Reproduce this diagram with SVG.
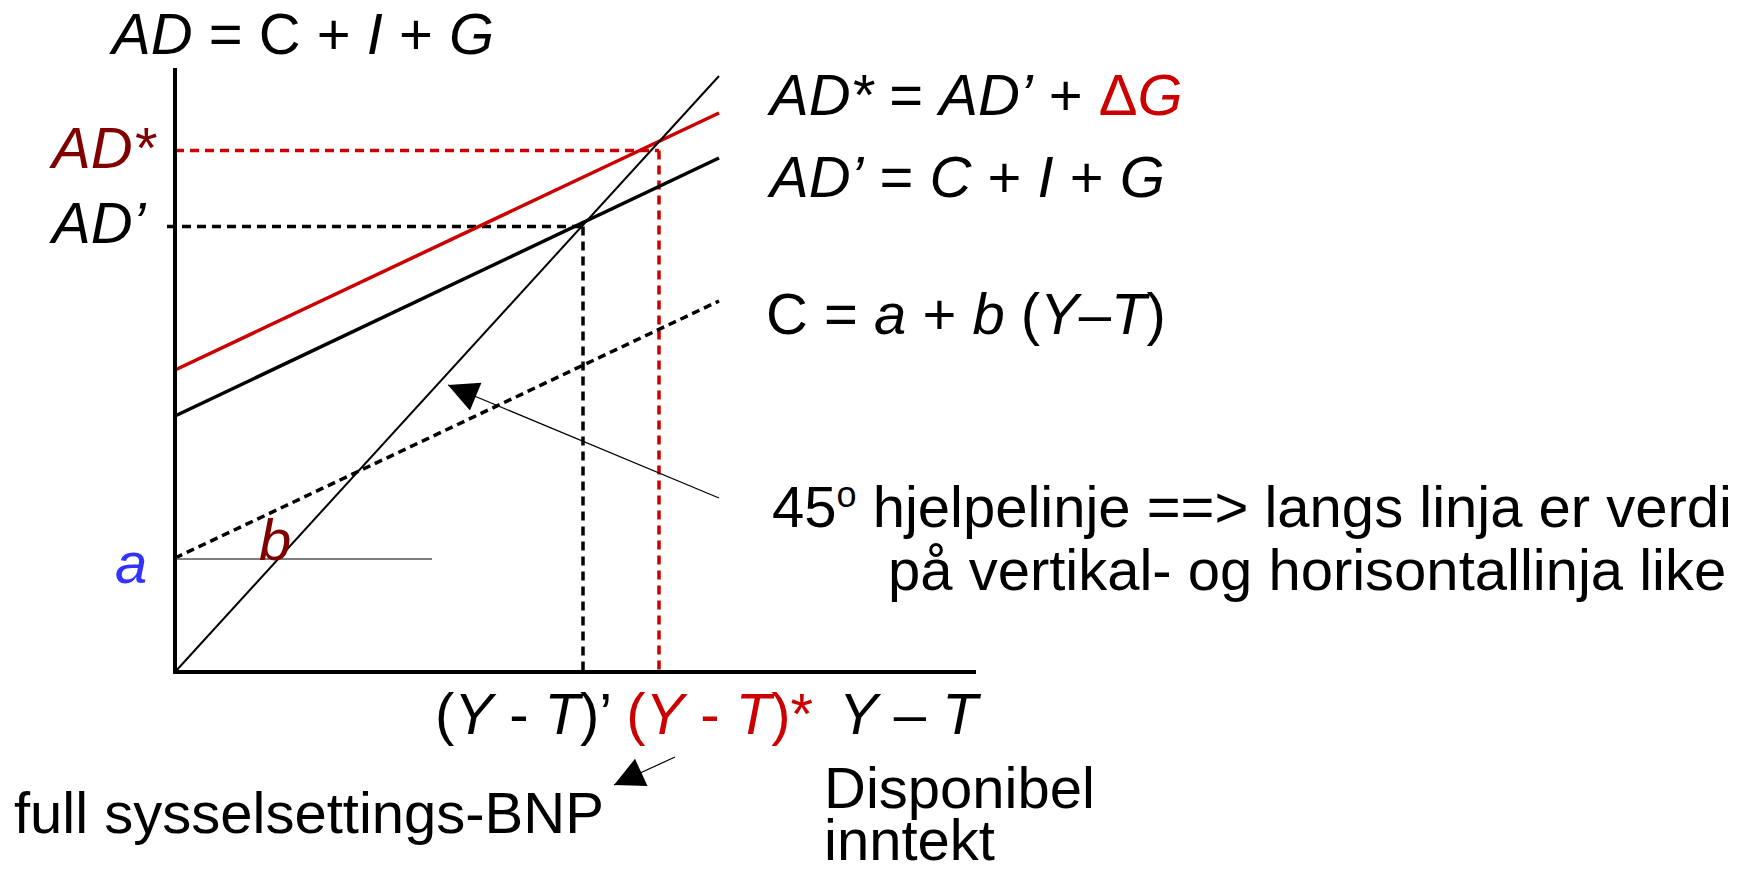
<svg xmlns="http://www.w3.org/2000/svg" width="1751" height="869" viewBox="0 0 1751 869">
<style>
text{font-family:"Liberation Sans",Arial,sans-serif;font-size:58px;fill:#000}
.i{font-style:italic}
.red{fill:#cc0000}
.dred{fill:#800000}
.blue{fill:#3333ff}
.ax{stroke:#000;stroke-width:4;fill:none}
.dash{stroke-width:3.5;stroke-dasharray:9,6;fill:none}
</style>
<defs>
<marker id="ah2" viewBox="0 0 10 10" refX="10" refY="5" markerWidth="40" markerHeight="30" markerUnits="userSpaceOnUse" orient="auto">
<path d="M0,0 L10,5 L0,10 z" fill="#000"/>
</marker>
</defs>
<g id="connectors">
<line class="dash" x1="175" y1="150.5" x2="659" y2="150.5" stroke="#cc0000"/>
<line class="dash" x1="659" y1="150.5" x2="659" y2="672" stroke="#cc0000"/>
<line class="dash" x1="167" y1="226.5" x2="583" y2="226.5" stroke="#000"/>
<line class="dash" x1="583" y1="226.5" x2="583" y2="672" stroke="#000"/>
<line x1="175" y1="558" x2="719" y2="301" stroke="#000" stroke-width="3.5" stroke-dasharray="8,5"/>
<line x1="175" y1="559" x2="432" y2="559" stroke="#555" stroke-width="1.5"/>
<line x1="175" y1="370" x2="719" y2="113" stroke="#cc0000" stroke-width="3.5"/>
<line x1="175" y1="416" x2="719" y2="158" stroke="#000" stroke-width="3.5"/>
<line x1="175" y1="672" x2="719" y2="76" stroke="#000" stroke-width="2"/>
<line class="ax" x1="175" y1="68" x2="175" y2="674"/>
<line class="ax" x1="173" y1="672" x2="976" y2="672"/>
<line x1="719" y1="498" x2="448" y2="385" stroke="#000" stroke-width="1.2" marker-end="url(#ah2)"/>
<line x1="675" y1="757" x2="614" y2="785" stroke="#000" stroke-width="1.2" marker-end="url(#ah2)"/>
</g>
<g id="ylabel"><text x="112" y="54"><tspan class="i">AD</tspan> = C + <tspan class="i">I</tspan> + <tspan class="i">G</tspan></text></g>
<g id="adstar-label"><text x="52" y="168" class="i dred">AD*</text></g>
<g id="adprime-label"><text x="52" y="243" class="i">AD’</text></g>
<g id="a-label"><text x="115" y="583" class="i blue">a</text></g>
<g id="b-label"><text x="259" y="560" class="i dred">b</text></g>
<g id="adstar-eq"><text x="770" y="115"><tspan class="i">AD*</tspan> = <tspan class="i">AD’</tspan> + <tspan class="red">Δ</tspan><tspan class="red i">G</tspan></text></g>
<g id="adprime-eq"><text x="770" y="197"><tspan class="i">AD’</tspan> = <tspan class="i">C</tspan> + <tspan class="i">I</tspan> + <tspan class="i">G</tspan></text></g>
<g id="c-eq"><text x="766" y="334">C = <tspan class="i">a</tspan> + <tspan class="i">b</tspan> (<tspan class="i">Y</tspan>–<tspan class="i">T</tspan>)</text></g>
<g id="note45"><text x="772" y="527">45<tspan font-size="36" dy="-20">o</tspan><tspan dy="20"> hjelpelinje ==&gt; langs linja er verdi</tspan></text>
<text x="888" y="590">på vertikal- og horisontallinja like</text></g>
<g id="xlabels"><text x="435" y="734">(<tspan class="i">Y</tspan> - <tspan class="i">T</tspan>)’ <tspan class="red">(</tspan><tspan class="red i">Y</tspan><tspan class="red"> - </tspan><tspan class="red i">T</tspan><tspan class="red">)*</tspan></text>
<text x="839" y="734"><tspan class="i">Y</tspan> – <tspan class="i">T</tspan></text></g>
<g id="fullemp"><text x="14" y="833">full sysselsettings-BNP</text></g>
<g id="disp"><text x="824" y="808" font-size="57">Disponibel</text><text x="824" y="860" font-size="57">inntekt</text></g>
</svg>
